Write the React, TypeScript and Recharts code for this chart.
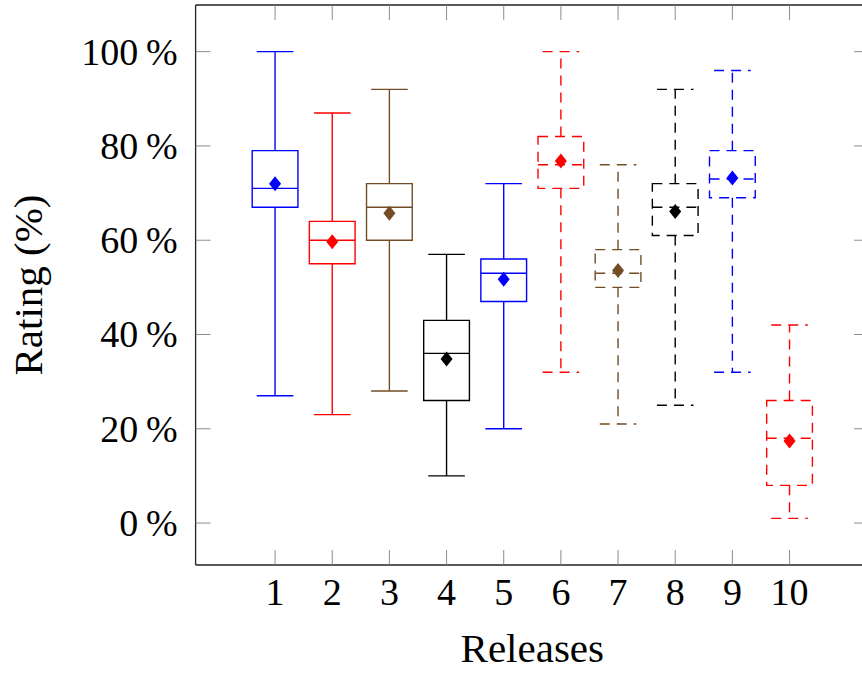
import React from 'react';
import {
  ComposedChart,
  XAxis,
  YAxis,
  Scatter,
  ReferenceArea,
  ReferenceLine,
  Label,
} from 'recharts';

// Box plot statistics per release (rating in %)
const releases = [1, 2, 3, 4, 5, 6, 7, 8, 9, 10];
const whiskerLow = [27, 23, 28, 10, 20, 32, 21, 25, 32, 1];
const lowerQuartile = [67, 55, 60, 26, 47, 71, 50, 61, 69, 8];
const medians = [71, 60, 67, 36, 53, 76, 53, 67, 73, 18];
const upperQuartile = [79, 64, 72, 43, 56, 82, 58, 72, 79, 26];
const whiskerHigh = [100, 87, 92, 57, 72, 100, 76, 92, 96, 42];
const means = [72, 59.7, 65.7, 34.8, 51.7, 76.8, 53.6, 66.1, 73.2, 17.4];
const yTicks = [0, 20, 40, 60, 80, 100];

const BLUE = '#0000ff';
const RED = '#ff0000';
const BROWN = '#734d26';
const BLACK = '#000000';
const boxColors = [BLUE, RED, BROWN, BLACK, BLUE, RED, BROWN, BLACK, BLUE, RED];
const FIRST_DASHED = 6;

const X_DOMAIN: [number, number] = [-0.39, 11.39];
const Y_DOMAIN: [number, number] = [-8.9, 109.9];
const BOX_HALF = 0.4;
const CAP_HALF = 0.32;

const SERIF = "'Liberation Serif', 'DejaVu Serif', serif";
const TICK_LEN = 15;
const TICK_COLOR = '#808080';
const LINE_W = 1.4;
const DASH = '10 7';
const frame = { stroke: '#222', strokeWidth: 1.3 };

const BottomTick = (p: any) => (
  <g>
    <line x1={p.x} y1={p.y} x2={p.x} y2={p.y - TICK_LEN} stroke={TICK_COLOR} strokeWidth={0.9} />
    <text x={p.x} y={p.y + 40} textAnchor="middle" fontFamily={SERIF} fontSize={38} fill="#000">
      {p.payload.value}
    </text>
  </g>
);

const TopTick = (p: any) => (
  <line x1={p.x} y1={p.y} x2={p.x} y2={p.y + TICK_LEN} stroke={TICK_COLOR} strokeWidth={0.9} />
);

const LeftTick = (p: any) => (
  <g>
    <line x1={p.x} y1={p.y} x2={p.x + TICK_LEN} y2={p.y} stroke={TICK_COLOR} strokeWidth={0.9} />
    <text x={p.x - 18} y={p.y + 13} textAnchor="end" fontFamily={SERIF} fontSize={38} fill="#000">
      {`${p.payload.value}\u2009%`}
    </text>
  </g>
);

const RightTick = (p: any) => (
  <line x1={p.x} y1={p.y} x2={p.x - TICK_LEN} y2={p.y} stroke={TICK_COLOR} strokeWidth={0.9} />
);

const Diamond = (p: any) => {
  const { cx, cy, fill } = p;
  if (cx == null || cy == null) return <g />;
  return (
    <polygon
      points={`${cx},${cy - 7.5} ${cx + 6},${cy} ${cx},${cy + 7.5} ${cx - 6},${cy}`}
      fill={fill}
    />
  );
};

const XTitle = (p: any) => {
  const vb = p.viewBox || { x: 195.6, y: 565, width: 673.4, height: 1 };
  return (
    <text x={vb.x + vb.width / 2} y={vb.y + 97} textAnchor="middle" fontFamily={SERIF} fontSize={41} fill="#000">
      Releases
    </text>
  );
};

const YTitle = (p: any) => {
  const vb = p.viewBox || { x: 194.6, y: 5, width: 1, height: 560 };
  const x = vb.x + vb.width - 154;
  const y = vb.y + vb.height / 2;
  return (
    <text x={x} y={y} transform={`rotate(-90, ${x}, ${y})`} textAnchor="middle" fontFamily={SERIF} fontSize={41} fill="#000">
      Rating (%)
    </text>
  );
};

export default function App() {
  const axisIds = { xAxisId: 'b', yAxisId: 'l' };

  return (
    <div
      style={{
        position: 'absolute',
        left: 0,
        top: 0,
        width: 862,
        height: 673,
        overflow: 'hidden',
        background: '#fff',
      }}
    >
      <ComposedChart width={880} height={673} margin={{ top: 4, right: 10, bottom: 107, left: 194.6 }}>
        <XAxis
          xAxisId="b"
          orientation="bottom"
          type="number"
          dataKey="x"
          domain={X_DOMAIN}
          ticks={releases}
          interval={0}
          allowDataOverflow
          height={1}
          tickSize={0}
          tickMargin={0}
          tickLine={false}
          axisLine={frame}
          tick={<BottomTick />}
        >
          <Label content={<XTitle />} />
        </XAxis>
        <XAxis
          xAxisId="t"
          orientation="top"
          type="number"
          dataKey="x"
          domain={X_DOMAIN}
          ticks={releases}
          interval={0}
          allowDataOverflow
          height={1}
          tickSize={0}
          tickMargin={0}
          tickLine={false}
          axisLine={frame}
          tick={<TopTick />}
        />
        <YAxis
          yAxisId="l"
          orientation="left"
          type="number"
          dataKey="y"
          domain={Y_DOMAIN}
          ticks={yTicks}
          interval={0}
          allowDataOverflow
          width={1}
          tickSize={0}
          tickMargin={0}
          tickLine={false}
          axisLine={frame}
          tick={<LeftTick />}
        >
          <Label content={<YTitle />} />
        </YAxis>
        <YAxis
          yAxisId="r"
          orientation="right"
          type="number"
          dataKey="y"
          domain={Y_DOMAIN}
          ticks={yTicks}
          interval={0}
          allowDataOverflow
          width={1}
          tickSize={0}
          tickMargin={0}
          tickLine={false}
          axisLine={frame}
          tick={<RightTick />}
        />

        {releases.map((r, i) => {
          const color = boxColors[i];
          const dash = r >= FIRST_DASHED ? DASH : undefined;
          const line = { stroke: color, strokeWidth: LINE_W, strokeDasharray: dash, ...axisIds };
          return (
            <React.Fragment key={r}>
              <ReferenceLine {...line} segment={[{ x: r, y: lowerQuartile[i] }, { x: r, y: whiskerLow[i] }]} />
              <ReferenceLine {...line} segment={[{ x: r, y: upperQuartile[i] }, { x: r, y: whiskerHigh[i] }]} />
              <ReferenceLine {...line} segment={[{ x: r - CAP_HALF, y: whiskerLow[i] }, { x: r + CAP_HALF, y: whiskerLow[i] }]} />
              <ReferenceLine {...line} segment={[{ x: r - CAP_HALF, y: whiskerHigh[i] }, { x: r + CAP_HALF, y: whiskerHigh[i] }]} />
              <ReferenceArea
                {...axisIds}
                x1={r - BOX_HALF}
                x2={r + BOX_HALF}
                y1={lowerQuartile[i]}
                y2={upperQuartile[i]}
                fill="none"
                fillOpacity={0}
                stroke={color}
                strokeWidth={LINE_W}
                strokeDasharray={dash}
                strokeOpacity={1}
              />
              <ReferenceLine {...line} segment={[{ x: r - BOX_HALF, y: medians[i] }, { x: r + BOX_HALF, y: medians[i] }]} />
            </React.Fragment>
          );
        })}

        {releases.map((r, i) => (
          <Scatter
            key={`mean-${r}`}
            {...axisIds}
            data={[{ x: r, y: means[i] }]}
            fill={boxColors[i]}
            shape={(p: any) => <Diamond {...p} />}
            isAnimationActive={false}
          />
        ))}
      </ComposedChart>
    </div>
  );
}
